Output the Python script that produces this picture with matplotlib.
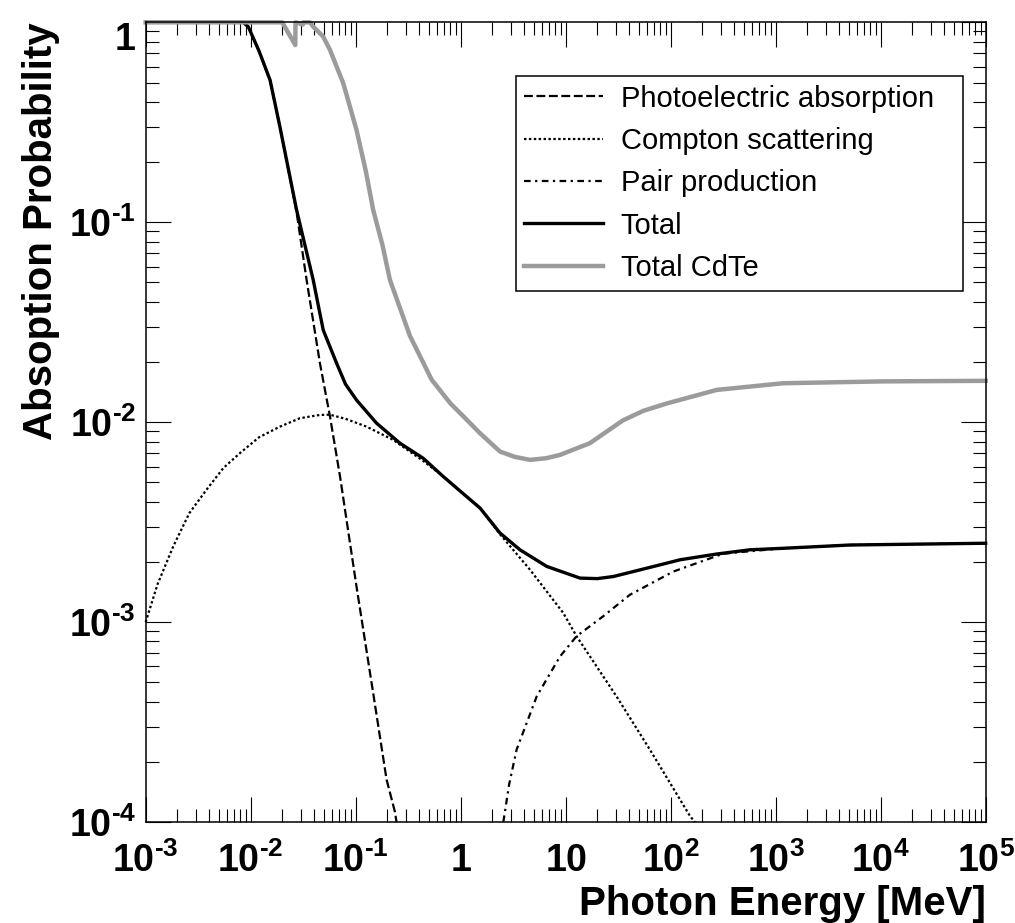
import matplotlib
matplotlib.use("Agg")
import matplotlib.pyplot as plt
from matplotlib.ticker import FixedLocator, LogLocator, NullFormatter

plt.rcParams["font.family"] = ["Liberation Sans", "DejaVu Sans"]
plt.rcParams["mathtext.fontset"] = "custom"
plt.rcParams["mathtext.rm"] = "Liberation Sans:bold"
plt.rcParams["mathtext.bf"] = "Liberation Sans:bold"
plt.rcParams["mathtext.it"] = "Liberation Sans:italic"

# values (energy in MeV, probability)
photo_e = [0.001, 0.0085, 0.0095, 0.012, 0.0153, 0.019, 0.0274, 0.0341, 0.0457,
           0.0569, 0.071, 0.102, 0.147, 0.197, 0.237, 0.245]
photo_p = [1.0, 1.0, 0.95, 0.72, 0.51, 0.30, 0.112, 0.0515, 0.0197,
           0.0107, 5.35e-3, 1.5e-3, 4.4e-4, 1.63e-4, 1.12e-4, 1.0e-4]

compton_e = [0.001, 0.0013, 0.00183, 0.0026, 0.00378, 0.0055, 0.0079, 0.012, 0.019,
             0.0295, 0.0457, 0.0569, 0.08, 0.127, 0.228, 0.44, 0.682, 1.0, 1.53,
             2.37, 4.57, 9.5, 12.7, 30.5, 63.5, 153, 170]
compton_p = [1.0e-3, 1.55e-3, 2.39e-3, 3.5e-3, 4.58e-3, 5.9e-3, 7.0e-3, 8.4e-3, 9.5e-3,
             0.01047, 0.01087, 0.0109, 0.0104, 9.5e-3, 8.15e-3, 6.4e-3, 5.35e-3, 4.5e-3, 3.72e-3,
             2.75e-3, 1.83e-3, 1.11e-3, 8.5e-4, 4.25e-4, 2.3e-4, 1.07e-4, 1.0e-4]

pair_e = [2.55, 2.9, 3.41, 5.3, 8.83, 12.7, 22.8, 40.9, 106, 317, 1180, 5100, 1e5]
pair_p = [1.0e-4, 1.55e-4, 2.3e-4, 4.25e-4, 6.73e-4, 8.5e-4, 1.07e-3, 1.37e-3, 1.79e-3,
          2.2e-3, 2.34e-3, 2.43e-3, 2.48e-3]

total_e = [0.001, 0.0085, 0.0095, 0.012, 0.0153, 0.019, 0.0274, 0.0394, 0.0491,
           0.0659, 0.08, 0.102, 0.158, 0.264, 0.44, 0.682, 1.0, 1.53, 2.37, 3.67,
           6.59, 13.7, 20, 28.4, 59, 123, 274, 569, 1180, 5100, 1e5]
total_p = [1.0, 1.0, 0.95, 0.72, 0.515, 0.30, 0.115, 0.0515, 0.0289,
           0.0197, 0.0155, 0.0129, 9.89e-3, 7.85e-3, 6.6e-3, 5.35e-3, 4.5e-3, 3.72e-3, 2.79e-3, 2.3e-3,
           1.9e-3, 1.66e-3, 1.65e-3, 1.69e-3, 1.86e-3, 2.05e-3, 2.19e-3, 2.3e-3, 2.34e-3, 2.43e-3, 2.48e-3]

cdte_e = [0.001, 0.020, 0.0266, 0.02675, 0.0314, 0.0318, 0.0367, 0.0395, 0.049, 0.057,
          0.0763, 0.102, 0.125, 0.147, 0.18, 0.212, 0.329, 0.53, 0.8, 1.14, 1.53, 2.37,
          3.3, 4.57, 6.5, 8.83, 17, 35, 55, 91.6, 274, 1180, 1.06e4, 1e5]
cdte_p = [1.0, 1.0, 0.77, 1.0, 0.975, 1.0, 1.0, 0.95, 0.85, 0.727,
          0.495, 0.289, 0.18, 0.115, 0.077, 0.0515, 0.027, 0.0163, 0.0124, 0.0103, 8.8e-3, 7.13e-3,
          6.7e-3, 6.48e-3, 6.6e-3, 6.86e-3, 7.85e-3, 0.0102, 0.0114, 0.0124, 0.0145, 0.01566, 0.016, 0.0161]

xticks = [1e-3, 1e-2, 1e-1, 1, 10, 1e2, 1e3, 1e4, 1e5]
xlabels = [r"$10^{\text{-}3}$", r"$10^{\text{-}2}$", r"$10^{\text{-}1}$", r"$1$",
           r"$10$", r"$10^{2}$", r"$10^{3}$", r"$10^{4}$", r"$10^{5}$"]
yticks = [1e-4, 1e-3, 1e-2, 1e-1, 1]
ylabels = [r"$10^{\text{-}4}$", r"$10^{\text{-}3}$", r"$10^{\text{-}2}$",
           r"$10^{\text{-}1}$", r"$1$"]

fig = plt.figure(figsize=(10.15, 9.23), dpi=100)
ax = fig.add_axes([0.1435, 0.1094, 0.8276, 0.8664])

ax.plot(photo_e, photo_p, color="black", lw=1.6, ls=(0, (4, 1.6)),
        label="Photoelectric absorption", clip_on=False)
ax.plot(compton_e, compton_p, color="black", lw=1.6, ls=(0, (1.1, 1.1)),
        label="Compton scattering", clip_on=False)
ax.plot(pair_e, pair_p, color="black", lw=1.6, ls=(0, (3, 2, 1, 2)),
        label="Pair production", clip_on=False)
ax.plot(total_e, total_p, color="black", lw=2.4, label="Total", clip_on=False)
ax.plot(cdte_e, cdte_p, color="#9b9b9b", lw=3.2, label="Total CdTe", clip_on=False)

ax.set_xscale("log")
ax.set_yscale("log")
ax.set_xlim(1e-3, 1e5)
ax.set_ylim(1e-4, 1.0)

ax.xaxis.set_major_locator(FixedLocator(xticks))
ax.set_xticklabels(xlabels)
ax.yaxis.set_major_locator(FixedLocator(yticks))
ax.set_yticklabels(ylabels)
ax.xaxis.set_minor_locator(LogLocator(base=10, subs=range(2, 10), numticks=20))
ax.yaxis.set_minor_locator(LogLocator(base=10, subs=range(2, 10), numticks=20))
ax.xaxis.set_minor_formatter(NullFormatter())
ax.yaxis.set_minor_formatter(NullFormatter())

ax.tick_params(which="both", direction="in", top=True, right=True, width=0.8, labelsize=27)
ax.tick_params(which="major", length=18)
ax.tick_params(which="minor", length=9.4)
ax.tick_params(axis="y", pad=7)
ax.tick_params(axis="x", pad=15)
ax.get_yticklabels()[-1].set_verticalalignment("top")
for s in ax.spines.values():
    s.set_linewidth(1.1)

ax.set_xlabel("Photon Energy [MeV]", fontsize=29, fontweight="bold", loc="right")
ax.set_ylabel("Absoption Probability", fontsize=29, fontweight="bold", loc="top")
ax.xaxis.set_label_coords(1.0, -0.079)
ax.yaxis.set_label_coords(-0.102, 1.0)

leg = ax.legend(loc="upper left", bbox_to_anchor=(0.4405, 0.933, 0.5328, 0.0), mode="expand",
                borderaxespad=0, fontsize=21, handlelength=2.7, handletextpad=0.6,
                labelspacing=0.49, borderpad=0.3, fancybox=False, framealpha=1)
leg.get_frame().set_edgecolor("black")
leg.get_frame().set_linewidth(1.1)

plt.savefig("out.png", dpi=100)
